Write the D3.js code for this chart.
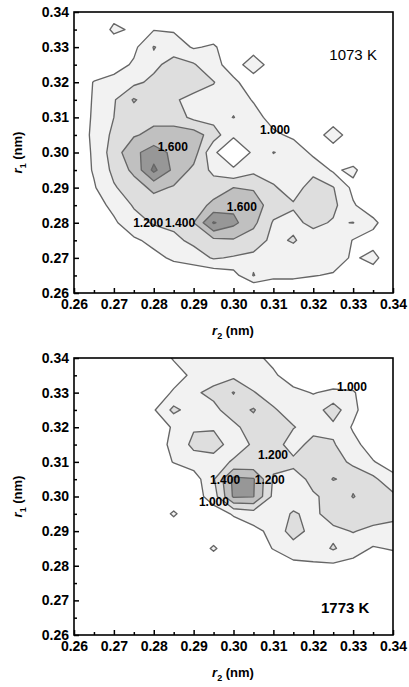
<!DOCTYPE html>
<html><head><meta charset="utf-8">
<script src="https://cdn.jsdelivr.net/npm/d3@7"></script>
<style>body{margin:0;background:#fff}svg{display:block}</style>
</head><body>
<svg id="c" width="409" height="687"></svg>
<script>
// ---- data ----
const majorTicks = [0.26,0.27,0.28,0.29,0.30,0.31,0.32,0.33,0.34];
const minorTicks = [0.265,0.275,0.285,0.295,0.305,0.315,0.325,0.335];
const gridR2 = [0.26,0.265,0.27,0.275,0.28,0.285,0.29,0.295,0.30,0.305,0.31,0.315,0.32,0.325,0.33,0.335,0.34];
const gridR1Top = [0.34,0.335,0.33,0.325,0.32,0.315,0.31,0.305,0.30,0.295,0.29,0.285,0.28,0.275,0.27,0.265,0.26];
const levels = [1.0,1.2,1.4,1.6,1.8];
const levelFills = ["#f2f2f2","#dedede","#c0c0c0","#979797","#7a7a7a"];

// rows from r1 = 0.34 (top) down to r1 = 0.26 (bottom); columns r2 = 0.26 .. 0.34
const density1073 = [
 [0.70,0.72,0.90,0.74,0.80,0.82,0.76,0.72,0.70,0.70,0.70,0.70,0.70,0.70,0.70,0.70,0.70],
 [0.72,0.80,1.05,0.96,0.99,0.98,0.90,0.85,0.80,0.80,0.75,0.72,0.70,0.70,0.70,0.70,0.70],
 [0.75,0.80,0.85,0.95,1.21,1.10,0.98,1.03,0.85,0.93,0.80,0.75,0.70,0.70,0.70,0.70,0.70],
 [0.80,0.85,0.90,1.03,1.15,1.28,1.22,1.05,0.93,1.08,0.93,0.80,0.75,0.70,0.70,0.70,0.70],
 [0.85,1.01,1.08,1.15,1.25,1.30,1.28,1.21,1.03,0.92,0.85,0.80,0.80,0.75,0.72,0.70,0.70],
 [0.85,1.02,1.18,1.42,1.28,1.22,1.15,1.12,1.15,0.98,0.90,0.85,0.80,0.75,0.75,0.72,0.70],
 [0.90,1.02,1.20,1.30,1.35,1.30,1.15,1.12,1.205,1.10,0.90,0.85,0.85,0.91,0.80,0.75,0.72],
 [0.90,1.03,1.25,1.38,1.45,1.50,1.50,1.30,1.02,1.10,1.05,0.95,0.91,1.08,0.91,0.80,0.75],
 [0.90,1.02,1.30,1.55,1.70,1.55,1.50,1.02,0.90,1.02,1.205,1.15,0.95,0.91,0.85,0.80,0.75],
 [0.85,1.02,1.25,1.45,1.85,1.55,1.35,1.15,1.02,1.15,1.12,1.12,1.15,0.97,1.04,0.85,0.80],
 [0.80,0.98,1.18,1.30,1.45,1.38,1.30,1.30,1.40,1.38,1.22,1.12,1.28,1.21,0.95,0.85,0.80],
 [0.80,0.92,1.05,1.22,1.30,1.28,1.30,1.45,1.55,1.50,1.30,1.22,1.32,1.25,1.02,0.88,0.80],
 [0.75,0.90,0.97,1.12,1.22,1.25,1.40,1.82,1.65,1.45,1.18,1.15,1.25,1.18,1.205,1.05,0.85],
 [0.70,0.85,0.92,0.97,1.05,1.15,1.25,1.35,1.38,1.30,1.15,1.22,1.10,1.15,0.99,0.92,0.85],
 [0.70,0.80,0.85,0.90,0.95,1.03,1.10,1.22,1.18,1.15,1.10,1.10,1.08,1.10,0.97,1.06,0.85],
 [0.70,0.72,0.75,0.80,0.85,0.88,0.85,0.85,0.92,1.21,1.05,1.05,1.01,0.98,0.90,0.90,0.80],
 [0.65,0.68,0.70,0.72,0.75,0.78,0.80,0.80,0.80,0.70,0.80,0.80,0.80,0.78,0.75,0.72,0.70]
];

const density1773 = [
 [0.70,0.70,0.72,0.75,0.85,1.02,1.08,1.10,1.10,1.05,0.95,0.85,0.80,0.75,0.72,0.70,0.70],
 [0.70,0.72,0.75,0.78,0.82,0.90,1.05,1.12,1.15,1.10,1.03,0.90,0.85,0.85,0.85,0.75,0.72],
 [0.70,0.72,0.75,0.80,0.85,1.03,1.17,1.25,1.41,1.21,1.12,1.05,0.99,1.04,1.02,0.85,0.75],
 [0.70,0.72,0.75,0.80,0.98,1.25,1.10,1.15,1.30,1.42,1.22,1.12,1.10,1.30,1.05,0.85,0.80],
 [0.70,0.72,0.75,0.80,0.90,1.02,1.18,1.18,1.15,1.30,1.30,1.21,1.12,1.15,0.98,0.85,0.80],
 [0.70,0.72,0.75,0.80,0.90,1.05,1.25,1.28,1.12,1.22,1.30,1.10,1.28,1.22,1.05,0.92,0.82],
 [0.70,0.72,0.75,0.80,0.88,1.01,1.10,1.12,1.22,1.22,1.25,1.25,1.30,1.30,1.15,1.01,0.92],
 [0.70,0.72,0.75,0.80,0.85,0.85,0.90,1.18,1.65,1.62,1.18,1.12,1.25,1.41,1.35,1.25,1.05],
 [0.70,0.70,0.72,0.75,0.80,0.85,0.90,1.10,1.63,1.61,1.15,1.10,1.18,1.25,1.41,1.30,1.25],
 [0.68,0.70,0.72,0.75,0.85,1.03,0.85,0.90,1.02,1.10,1.10,1.22,1.15,1.30,1.28,1.30,1.28],
 [0.65,0.68,0.70,0.72,0.75,0.85,0.80,0.85,0.88,0.95,1.05,1.30,1.12,1.15,1.21,1.15,1.10],
 [0.62,0.65,0.68,0.70,0.72,0.75,0.85,1.03,0.85,0.88,1.01,1.10,1.10,1.22,1.10,0.98,1.02],
 [0.60,0.62,0.65,0.68,0.70,0.72,0.75,0.85,0.78,0.80,0.85,0.95,0.97,0.96,0.92,0.88,0.85],
 [0.58,0.60,0.62,0.65,0.68,0.70,0.72,0.75,0.75,0.78,0.80,0.82,0.82,0.80,0.80,0.78,0.75],
 [0.55,0.58,0.60,0.62,0.65,0.68,0.70,0.72,0.72,0.75,0.75,0.78,0.78,0.75,0.75,0.72,0.70],
 [0.55,0.55,0.58,0.60,0.62,0.65,0.68,0.70,0.70,0.72,0.72,0.75,0.75,0.72,0.72,0.70,0.70],
 [0.52,0.55,0.55,0.58,0.60,0.62,0.65,0.68,0.68,0.70,0.70,0.72,0.72,0.70,0.70,0.68,0.68]
];

const labels1073 = [
 {text:"1.600", r2:0.2848, r1:0.3016},
 {text:"1.000", r2:0.3104, r1:0.3064},
 {text:"1.600", r2:0.3021, r1:0.2845},
 {text:"1.200", r2:0.2786, r1:0.2799},
 {text:"1.400", r2:0.2866, r1:0.2799}
];
const labels1773 = [
 {text:"1.000", r2:0.3297, r1:0.3316},
 {text:"1.200", r2:0.3099, r1:0.3120},
 {text:"1.400", r2:0.2979, r1:0.3048},
 {text:"1.200", r2:0.3091, r1:0.3048},
 {text:"1.000", r2:0.2951, r1:0.2984}
];

// ---- drawing ----
const svg = d3.select("#c");
const FONT = "'Liberation Sans', Arial, sans-serif";
const nx = gridR2.length, ny = gridR1Top.length;
const step = 0.005;

function panel(cfg, idx) {
  const x = d3.scaleLinear([0.26, 0.34], [74, 393]);
  const y = d3.scaleLinear([0.26, 0.34], [cfg.bottom, cfg.top]);
  const g = svg.append("g");
  const clipId = "clip" + idx;
  svg.append("defs").append("clipPath").attr("id", clipId)
    .append("rect").attr("x", 74).attr("y", cfg.top).attr("width", 319).attr("height", cfg.bottom - cfg.top);

  const flat = cfg.grid.flat();
  const cs = d3.contours().size([nx, ny]).thresholds(levels)(flat);
  const proj = d3.geoTransform({
    point(px, py) {
      this.stream.point(x(gridR2[0] + (px - 0.5) * step), y(gridR1Top[0] - (py - 0.5) * step));
    }
  });
  const path = d3.geoPath(proj);
  const cg = g.append("g").attr("clip-path", `url(#${clipId})`);
  cg.selectAll("path.fill").data(cs).join("path")
    .attr("class", "fill")
    .attr("d", path)
    .attr("fill", (d, i) => levelFills[i])
    .attr("stroke", "none");
  cg.selectAll("path.line").data(cs).join("path")
    .attr("class", "line")
    .attr("d", path)
    .attr("fill", "none")
    .attr("stroke", "#666")
    .attr("stroke-width", 1.35)
    .attr("stroke-linejoin", "round");

  // axes
  const fmt = d3.format(".2f");
  const xa = g.append("g").attr("transform", `translate(0,${cfg.bottom})`)
    .call(d3.axisBottom(x).tickValues(majorTicks).tickSize(-5).tickPadding(6).tickFormat(fmt));
  const xm = g.append("g").attr("transform", `translate(0,${cfg.bottom})`)
    .call(d3.axisBottom(x).tickValues(minorTicks).tickSize(-3).tickFormat(""));
  const ya = g.append("g").attr("transform", "translate(74,0)")
    .call(d3.axisLeft(y).tickValues(majorTicks).tickSize(-5).tickPadding(5).tickFormat(fmt));
  const ym = g.append("g").attr("transform", "translate(74,0)")
    .call(d3.axisLeft(y).tickValues(minorTicks).tickSize(-3).tickFormat(""));
  [xa, xm, ya, ym].forEach(a => {
    a.select(".domain").remove();
    a.selectAll("line").attr("stroke", "#000").attr("stroke-width", 1.5);
    a.selectAll("text").attr("font-family", FONT).attr("font-weight", "bold")
      .attr("font-size", 14).attr("fill", "#000");
  });

  // frame
  g.append("rect").attr("x", 74).attr("y", cfg.top).attr("width", 319).attr("height", cfg.bottom - cfg.top)
    .attr("fill", "none").attr("stroke", "#000").attr("stroke-width", 1.6);

  // contour labels
  g.selectAll("text.lab").data(cfg.labels).join("text")
    .attr("class", "lab")
    .attr("x", d => x(d.r2)).attr("y", d => y(d.r1))
    .attr("text-anchor", "middle").attr("dominant-baseline", "central")
    .attr("font-family", FONT).attr("font-weight", "bold").attr("font-size", 12)
    .attr("fill", "#000").text(d => d.text);

  // temperature label
  g.append("text").attr("x", x(cfg.tempPos[0])).attr("y", y(cfg.tempPos[1]))
    .attr("text-anchor", "middle").attr("dominant-baseline", "central")
    .attr("font-family", FONT).attr("font-weight", cfg.tempBold ? "bold" : "normal")
    .attr("font-size", 15).attr("fill", "#000").text(cfg.temp);

  // x title
  const xt = g.append("text").attr("x", 233).attr("y", cfg.bottom + 42)
    .attr("text-anchor", "middle").attr("font-family", FONT).attr("font-weight", "bold")
    .attr("font-size", 13).attr("fill", "#000");
  xt.append("tspan").attr("font-style", "italic").text("r");
  xt.append("tspan").attr("font-size", 9).attr("dy", 4).text("2");
  xt.append("tspan").attr("dy", -4).text(" (nm)");

  // y title
  const yt = g.append("text")
    .attr("transform", `translate(22,${(cfg.top + cfg.bottom) / 2}) rotate(-90)`)
    .attr("text-anchor", "middle").attr("font-family", FONT).attr("font-weight", "bold")
    .attr("font-size", 13).attr("fill", "#000");
  yt.append("tspan").attr("font-style", "italic").text("r");
  yt.append("tspan").attr("font-size", 9).attr("dy", 4).text("1");
  yt.append("tspan").attr("dy", -4).text(" (nm)");
}

panel({top: 12, bottom: 293, grid: density1073, labels: labels1073,
       temp: "1073 K", tempPos: [0.330, 0.3278], tempBold: false}, 0);
panel({top: 358, bottom: 635, grid: density1773, labels: labels1773,
       temp: "1773 K", tempPos: [0.328, 0.2678], tempBold: true}, 1);
</script>
</body></html>
